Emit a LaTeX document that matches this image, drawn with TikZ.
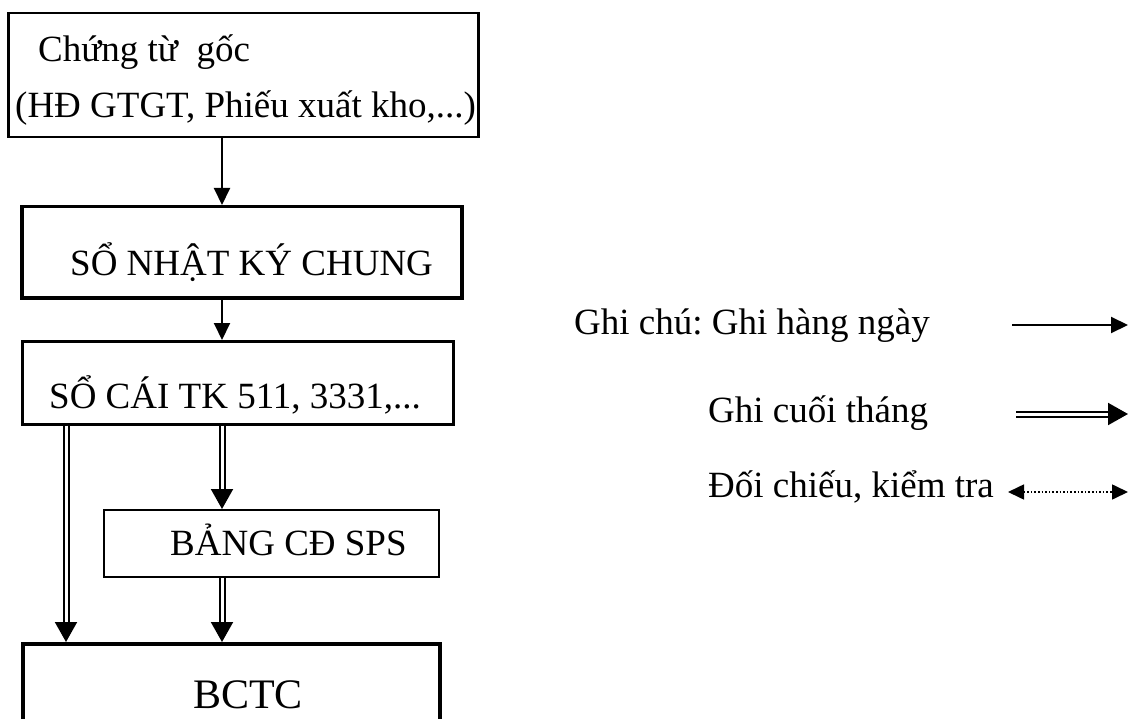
\documentclass[tikz,border=0pt]{standalone}
\usepackage{fontspec}
\setmainfont{Liberation Serif}
\usetikzlibrary{arrows.meta}
\frenchspacing
\begin{document}
\begin{tikzpicture}[x=1pt,y=-1pt,
  box/.style={draw, line width=#1, inner sep=0pt, anchor=north west},
  box/.default=2.5pt,
  txt/.style={anchor=base west, inner sep=0pt, font=\fontsize{37}{44}\selectfont},
  daily/.style={line width=2pt, -{Triangle[length=17pt,width=16pt]}},
  monthly/.style={double, double distance=3pt, line width=2pt, -{Triangle[length=20pt,width=22pt]}},
  check/.style={line width=1.6pt, dotted, {Triangle[length=16pt,width=15pt]}-{Triangle[length=16pt,width=15pt]}}]
\useasboundingbox (0,0) rectangle (1134,719);
\clip (0,0) rectangle (1134,719);

% boxes of the flow
\node[box=2.5pt, minimum width=470pt, minimum height=124pt] (b1) at (7,12) {};
\node[box=3.5pt, minimum width=440pt, minimum height=91pt] (b2) at (20,205) {};
\node[box=2.5pt, minimum width=431pt, minimum height=83pt] (b3) at (21,340) {};
\node[box=2.2pt, minimum width=335pt, minimum height=67pt] (b4) at (103,509) {};
\node[box=3.5pt, minimum width=417pt, minimum height=120pt] (b5) at (21,642) {};

% texts of the flow
\node[txt] (t1a) at (38,62) {Chứng từ\ \ gốc};
\node[txt] (t1b) at (15,118) {(HĐ GTGT, Phiếu xuất kho,...)};
\node[txt] (t2) at (70,275) {SỔ NHẬT KÝ CHUNG};
\node[txt] (t3) at (49,408) {SỔ CÁI TK 511, 3331,...};
\node[txt] (t4) at (170,555) {BẢNG CĐ SPS};
\node[txt, font=\fontsize{42}{50}\selectfont] (t5) at (193,708) {BCTC};

% connectors
\draw[daily] (b1.south west -| 222,0) -- (b2.north west -| 222,0);
\draw[daily] (b2.south west -| 222,0) -- (b3.north west -| 222,0);
\draw[monthly] (b3.south west -| 222,0) -- (b4.north west -| 222,0);
\draw[monthly] (b4.south west -| 222,0) -- (b5.north west -| 222,0);
\draw[monthly] (b3.south west -| 66,0) -- (b5.north west -| 66,0);

% legend
\node[txt] (l1) at (574,334) {Ghi chú: Ghi hàng ngày};
\node[txt] (l2) at (708,422) {Ghi cuối tháng};
\node[txt] (l3) at (708,497) {Đối chiếu, kiểm tra};
\coordinate (a1s) at (1012,325); \coordinate (a1e) at (1128,325);
\coordinate (a2s) at (1016,414); \coordinate (a2e) at (1128,414);
\coordinate (a3s) at (1008,492); \coordinate (a3e) at (1128,492);
\draw[daily] (a1s) -- (a1e);
\draw[monthly] (a2s) -- (a2e);
\draw[check] (a3s) -- (a3e);
\end{tikzpicture}
\end{document}
